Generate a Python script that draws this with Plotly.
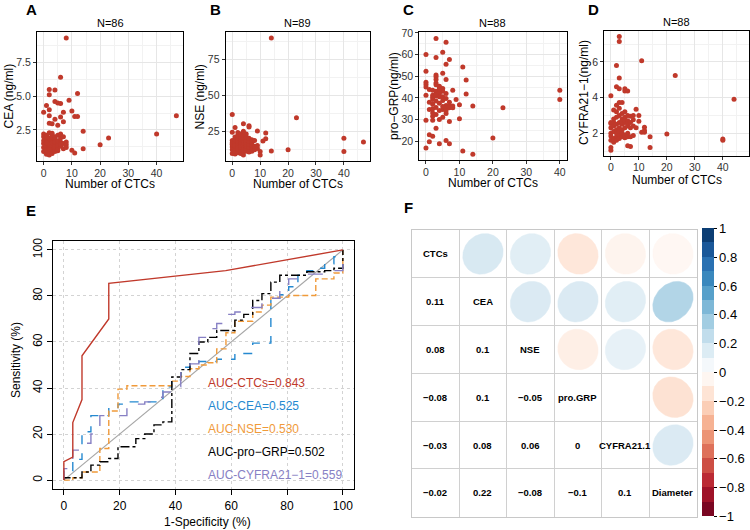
import numpy as np
import plotly.graph_objects as go

FONT = "Liberation Sans, Arial, Helvetica, sans-serif"
W, H = 750, 530

# ---------------- data ----------------
cea_ctcs = [8, 6, 2, 4, 2, 12, 9, 4, 5, 6, 1, 2, 0, 10, 7, 2, 6, 11, 12, 47, 4, 7, 2, 3, 5, 14, 40, 23, 20, 14, 10, 11,
            0, 0, 0, 0, 0, 0, 1, 1, 1, 1, 1, 1, 2, 2, 2, 2, 2, 2, 2, 3, 3, 3, 3, 3, 3, 3,
            4, 4, 4, 4, 4, 4, 4, 5, 5, 5, 5, 5, 5, 5, 6, 6, 6, 6, 6, 7, 7, 7, 8, 8, 8, 3, 1, 2]
cea_vals = [9.3, 6.4, 5.5, 5.45, 5.1, 5.2, 4.7, 4.6, 4.5, 4.45, 4.3, 4.0, 3.8, 3.9, 3.8, 3.55, 3.45, 3.5, 3.5, 3.55,
            3.3, 3.1, 3.0, 2.95, 2.85, 2.4, 2.2, 1.9, 1.4, 1.1, 1.0, 0.8,
            2.2, 2.0, 1.5, 1.2, 0.9, 1.7, 2.1, 1.8, 1.3, 0.7, 1.0, 2.0, 1.9, 1.6, 1.2, 0.8, 1.45, 2.3, 0.65,
            2.1, 1.7, 1.3, 1.0, 0.75, 1.55, 1.95, 2.0, 1.8, 1.4, 1.1, 0.9, 1.6, 1.25,
            2.1, 1.5, 1.2, 0.95, 1.7, 1.35, 1.05, 1.9, 1.6, 1.3, 2.2, 1.45, 2.0, 1.1, 1.5, 1.6, 1.4, 1.2, 2.25, 1.55, 1.05]

nse_ctcs = [14, 0, 23, 4, 6, 1, 9, 12, 12, 11, 40, 47, 40, 20, 14, 0, 10, 10, 4,
            0, 0, 0, 0, 0, 0, 0, 1, 1, 1, 1, 1, 1, 1, 1, 1, 2, 2, 2, 2, 2, 2, 2, 2, 2, 2,
            3, 3, 3, 3, 3, 3, 3, 3, 3, 3, 4, 4, 4, 4, 4, 4, 4, 4, 4, 5, 5, 5, 5, 5, 5, 5, 5,
            6, 6, 6, 6, 6, 6, 6, 7, 7, 7, 7, 7, 8, 8, 8, 9, 9]
nse_vals = [90.1, 36.6, 34.4, 30.2, 28.8, 27.6, 25.2, 23.8, 19.8, 18.2, 20.0, 17.5, 10.8, 12.0, 11.1, 24.3, 10.8, 8.3, 8.3,
            9.5, 12, 14, 15.5, 17, 18.5, 16, 9, 11, 13, 14.5, 16, 17.5, 19, 21, 15,
            10, 12.5, 14, 15.5, 17, 18, 20, 22, 24, 13, 9.5, 11.5, 13, 15, 16.5, 18, 19.5, 21, 23, 14,
            10.5, 12, 13.5, 15, 17, 18.5, 20, 22, 25, 11, 13, 14.5, 16, 17.5, 19, 21, 23,
            10.5, 12.5, 14, 16, 18, 20, 28, 11, 13, 15, 17, 19, 12, 14.5, 18.5, 13, 15]

grp_ctcs = [0, 0, 0, 0, 0, 0, 0, 0, 3, 6, 5, 3, 7, 6, 5, 11, 12, 6, 3, 3, 3, 3, 3, 4, 4, 1, 2, 5, 5, 8, 12,
            2, 2, 2, 4, 4, 6, 9, 5, 3, 3, 10, 1, 2, 4, 5, 6, 7, 8, 6, 7, 8, 14, 23, 2, 3, 5, 6, 2, 4, 7, 10,
            3, 1, 2, 1, 6, 7, 4, 20, 11, 14, 40, 40,
            2, 3, 4, 5, 4, 1, 3, 5, 6, 2, 4, 7, 3, 6]
grp_vals = [60, 52.3, 47.2, 46.2, 45, 41.2, 29.7, 16.8, 67.4, 65.7, 61, 58.6, 57.7, 55.5, 51.4, 54.2, 48.2, 48.5,
            50.6, 49.7, 48.5, 46.9, 46, 45.3, 44.9, 43.8, 43.5, 44.3, 43, 43.5, 41.8,
            41.2, 40.3, 39.2, 41.8, 40.5, 39.7, 39.2, 38.8, 40.8, 38.5, 36.8, 34.6, 35, 34.2, 34.6,
            36.5, 36.2, 36.2, 35.4, 35.4, 35.4, 36.2, 35.4, 31.5, 32.3, 31, 32.8, 29.7, 30, 29.1, 30.3,
            26, 23, 22.3, 19.7, 20.3, 18.8, 18.8, 21.5, 15.4, 14, 43.5, 39.2,
            37, 43, 42.5, 40.5, 37.5, 38, 35.5, 36, 34, 33, 44, 38, 41.5, 42]

cyf_ctcs = [3, 3, 11, 2, 3, 23, 2, 3, 5, 5, 6, 0, 44, 3, 4, 2, 9, 10, 8, 0, 1, 10, 12, 12, 11, 12, 20, 14,
            40, 40, 14, 0, 0, 6, 7, 8,
            0, 0, 0, 0, 0, 1, 1, 1, 1, 1, 1, 2, 2, 2, 2, 2, 2, 2, 3, 3, 3, 3, 3, 3, 3,
            4, 4, 4, 4, 4, 4, 4, 5, 5, 5, 5, 5, 5, 5, 6, 6, 6, 6, 6, 6, 7, 7, 7, 7, 8, 8, 9]
cyf_vals = [7.43, 7.15, 6.07, 5.8, 5.1, 5.24, 4.6, 4.5, 4.5, 4.37, 4.37, 4.1, 3.9, 3.72, 3.72, 3.57, 3.35, 3.0, 3.0,
            2.55, 2.6, 2.67, 2.33, 2.15, 2.05, 2.05, 1.96, 1.8, 1.68, 1.6, 1.2, 1.2, 1.05, 1.3, 1.26, 1.87,
            1.6, 2.0, 2.3, 2.6, 1.85, 1.7, 2.1, 2.4, 2.8, 1.5, 3.3, 1.8, 2.2, 2.5, 2.9, 3.2, 1.6, 2.0,
            1.9, 2.3, 2.6, 3.0, 3.4, 1.7, 2.1, 1.8, 2.2, 2.5, 2.8, 3.1, 2.0, 2.65,
            1.9, 2.3, 2.6, 2.9, 3.2, 2.7, 1.75, 2.0, 2.4, 2.7, 3.0, 1.8, 2.55, 1.8, 2.3, 2.6, 2.95, 2.4, 2.75, 2.3]

# ROC curves (1-specificity %, sensitivity %)
ctcs_fpr = [0, 0, 3.2, 3.2, 6.5, 6.5, 16.1, 16.1, 58, 100]
ctcs_tpr = [0, 8, 10, 25, 35, 54, 70, 85.5, 91, 100]
cea_fpr = [0, 0, 3.2, 6.5, 9.7, 16.1, 19.4, 22.6, 35.5, 38.7, 41.9, 45.2, 48.4, 54.8, 61.3, 67.7, 74.2, 77.4, 80.6,
           83.9, 87.1, 90.3, 93.5, 96.8, 100]
cea_tpr = [0, 4, 9, 21, 28, 31, 33, 34, 40.5, 43.5, 49, 50.5, 51.5, 52.5, 55, 59.5, 79, 80.5, 84,
           89, 91, 92, 94, 97, 100]
nse_fpr = [0, 3.2, 6.5, 12.9, 16.1, 19.4, 22.6, 38.7, 41.9, 45.2, 48.4, 51.6, 54.8, 58.1, 61.3, 67.7, 71, 74.2,
           80.6, 90.3, 90.3, 96.8, 100, 100]
nse_tpr = [0, 1, 3.5, 13.7, 30, 39.5, 41, 43, 45, 48.4, 50, 51, 57, 64, 69, 73, 76, 79.5,
           80.2, 82.4, 87.4, 90, 94.7, 100]
grp_fpr = [0, 0, 6.5, 9.7, 12.9, 16.1, 19.4, 25.8, 29, 32.3, 35.5, 38.7, 41.9, 45.2, 48.4, 51.6, 54.8, 61.3, 64.5,
           67.7, 71, 74.2, 77.4, 87.1, 93.5, 96.8, 100]
grp_tpr = [0, 1, 3.5, 6.5, 8, 9.4, 14.5, 18, 20, 24, 25.3, 44.8, 48, 55, 60, 62, 65, 69.5, 72,
           78, 81, 86, 89, 90.5, 91, 92, 100]
cyf_fpr = [0, 0, 3.2, 6.5, 9.7, 12.9, 22.6, 29, 32.3, 35.5, 38.7, 41.9, 45.2, 48.4, 51.6, 54.8, 58.1, 61.3, 64.5,
           71, 74.2, 77.4, 80.6, 87.1, 93.5, 100, 100]
cyf_tpr = [0, 5, 13, 16, 20, 28, 33, 34, 36, 38.3, 40.5, 49, 50.5, 62, 65.8, 68, 72, 73, 75,
           78, 79, 84, 87.4, 89.5, 91, 92.5, 100]
auc_labels = ["AUC-CTCs=0.843", "AUC-CEA=0.525", "AUC-NSE=0.530", "AUC-pro\u2212GRP=0.502", "AUC-CYFRA21\u22121=0.559"]
auc_label_y = [42, 32.2, 22.4, 12.3, 2.2]

# correlation matrix
corr_vars = ["CTCs", "CEA", "NSE", "pro.GRP", "CYFRA21.1", "Diameter"]
corr_matrix = [
    [1, 0.11, 0.08, -0.08, -0.03, -0.02],
    [0.11, 1, 0.1, 0.1, 0.08, 0.22],
    [0.08, 0.1, 1, -0.05, 0.06, -0.08],
    [-0.08, 0.1, -0.05, 1, 0, -0.1],
    [-0.03, 0.08, 0.06, 0, 1, 0.1],
    [-0.02, 0.22, -0.08, -0.1, 0.1, 1],
]

# ---------------- helpers ----------------
def px_x(p):
    return p / W


def px_y(p):
    return 1 - p / H


RED = "#C0392B"
BLUE = "#2589D0"
ORANGE = "#F09A3A"
PURPLE = "#8780C4"

PAL = ["#67001F", "#B2182B", "#D6604D", "#F4A582", "#FDDBC7", "#FFFFFF",
       "#D1E5F0", "#92C5DE", "#4393C3", "#2166AC", "#053061"]


def hex2rgb(h):
    return tuple(int(h[i:i + 2], 16) for i in (1, 3, 5))


def pal(v):
    t = (v + 1) / 2 * 10
    i = min(int(np.floor(t)), 9)
    f = t - i
    a, b = hex2rgb(PAL[i]), hex2rgb(PAL[i + 1])
    c = [round(a[k] + (b[k] - a[k]) * f) for k in range(3)]
    return "rgb(%d,%d,%d)" % tuple(c)


def paper_text(text, x, y, size=12, angle=0, color="black", xanchor="center"):
    return dict(text=text, x=px_x(x), y=px_y(y), xref="paper", yref="paper", xanchor=xanchor,
                yanchor="middle", showarrow=False, textangle=angle, borderpad=0,
                font=dict(size=size, color=color, family=FONT))


fig = go.Figure()
layout = dict(
    template="none",
    width=W, height=H, margin=dict(l=0, r=0, t=0, b=0, pad=0, autoexpand=False),
    paper_bgcolor="white", plot_bgcolor="white", showlegend=False,
    font=dict(family=FONT, size=12, color="black"),
)
annotations = []

# ---------------- scatter panels A-D ----------------
panels = [
    dict(x=cea_ctcs, y=cea_vals, ytitle="CEA (ng/ml)", title="N=86", box=(37, 183, 32, 161),
         xr=[-2.35, 49.35], xt=[0, 10, 20, 30, 40], xm=[5, 15, 25, 35, 45],
         yr=[0.2, 9.75], yt=[2.5, 5.0, 7.5], ym=[1.25, 3.75, 6.25, 8.75], fmt=".1f",
         ytx=8, letter="A", lx=31, xty=183.5),
    dict(x=nse_ctcs, y=nse_vals, ytitle="NSE (ng/ml)", title="N=89", box=(225.7, 370, 32, 161),
         xr=[-2.35, 49.35], xt=[0, 10, 20, 30, 40], xm=[5, 15, 25, 35, 45],
         yr=[4.2, 94.2], yt=[25, 50, 75], ym=[12.5, 37.5, 62.5, 87.5], fmt="",
         ytx=199, letter="B", lx=216, xty=183.5),
    dict(x=grp_ctcs, y=grp_vals, ytitle="pro\u2212GRP(ng/ml)", title="N=88", box=(419.3, 566.5, 32, 160),
         xr=[-2, 42], xt=[0, 10, 20, 30, 40], xm=[5, 15, 25, 35],
         yr=[11.3, 70.4], yt=[20, 30, 40, 50, 60, 70], ym=[15, 25, 35, 45, 55, 65], fmt="",
         ytx=394, letter="C", lx=408, xty=183),
    dict(x=cyf_ctcs, y=cyf_vals, ytitle="CYFRA21\u22121(ng/ml)", title="N=88", box=(604.3, 749, 30.7, 155.5),
         xr=[-2.35, 49.35], xt=[0, 10, 20, 30, 40], xm=[5, 15, 25, 35, 45],
         yr=[0.75, 7.75], yt=[2, 4, 6], ym=[1, 3, 5, 7], fmt="",
         ytx=584, letter="D", lx=593, xty=180),
]

for k, p in enumerate(panels, start=1):
    xa = "x" if k == 1 else "x%d" % k
    ya = "y" if k == 1 else "y%d" % k
    xl, xr_, yt_, yb = p["box"]
    fig.add_trace(go.Scatter(x=p["x"], y=p["y"], mode="markers", xaxis=xa, yaxis=ya,
                             marker=dict(size=5, color=RED), hoverinfo="skip"))
    common = dict(showline=True, mirror=True, linecolor="black", linewidth=1.2, automargin=False,
                  ticks="outside", ticklen=3, tickcolor="#333333", tickwidth=1,
                  showgrid=True, gridcolor="#E6E6E6", gridwidth=1, zeroline=False,
                  tickfont=dict(size=10.5, color="#333333", family=FONT))
    layout["xaxis" if k == 1 else "xaxis%d" % k] = dict(
        domain=[px_x(xl), px_x(xr_)], anchor=ya, range=p["xr"], tickvals=p["xt"], ticklabelstandoff=-1,
        minor=dict(tickvals=p["xm"], showgrid=True, gridcolor="#F2F2F2", gridwidth=0.7, ticks=""),
        **common)
    layout["yaxis" if k == 1 else "yaxis%d" % k] = dict(
        domain=[px_y(yb), px_y(yt_)], anchor=xa, range=p["yr"], tickvals=p["yt"], tickformat=p["fmt"],
        minor=dict(tickvals=p["ym"], showgrid=True, gridcolor="#F2F2F2", gridwidth=0.7, ticks=""),
        **common)
    cx = (xl + xr_) / 2
    annotations += [
        paper_text(p["title"], cx, yt_ - 9, size=11),
        paper_text(p["ytitle"], p["ytx"], (yt_ + yb) / 2, size=12, angle=-90),
        paper_text("Number of CTCs", cx, p["xty"], size=12),
        paper_text("<b>%s</b>" % p["letter"], p["lx"], 10, size=15),
    ]

# ---------------- panel E : ROC ----------------
fig.add_trace(go.Scatter(x=[0, 100], y=[0, 100], mode="lines", xaxis="x5", yaxis="y5",
                         line=dict(color="#A6A6A6", width=1.2), hoverinfo="skip"))
roc = [
    (cea_fpr, cea_tpr, BLUE, "dash", "hv"),
    (nse_fpr, nse_tpr, ORANGE, "6px,3px", "hv"),
    (grp_fpr, grp_tpr, "black", "dashdot", "hv"),
    (cyf_fpr, cyf_tpr, PURPLE, "longdash", "hv"),
    (ctcs_fpr, ctcs_tpr, RED, "solid", "linear"),
]
for fx, ty, col, dash, shape in roc:
    fig.add_trace(go.Scatter(x=fx, y=ty, mode="lines", xaxis="x5", yaxis="y5", line_shape=shape,
                             line=dict(color=col, width=1.4, dash=dash), hoverinfo="skip"))

eax = dict(showline=True, mirror=True, linecolor="black", linewidth=1, automargin=False,
           ticks="outside", ticklen=5, tickcolor="black", range=[-4, 104],
           tickvals=[0, 20, 40, 60, 80, 100], showgrid=True, gridcolor="#D3D3D3",
           griddash="dot", gridwidth=1, zeroline=False, tickfont=dict(size=12, color="black"))
layout["xaxis5"] = dict(domain=[px_x(52.7), px_x(354)], anchor="y5", **eax)
layout["yaxis5"] = dict(domain=[px_y(489.3), px_y(240.7)], anchor="x5", tickangle=-90, **eax)
for lab, yv, col in zip(auc_labels, auc_label_y, [RED, BLUE, ORANGE, "black", PURPLE]):
    annotations.append(dict(text=lab, x=51, y=yv, xref="x5", yref="y5", xanchor="left", yanchor="middle",
                            showarrow=False, font=dict(size=12, color=col)))
annotations += [
    paper_text("1-Specificity (%)", 207, 522, size=12),
    paper_text("Sensitivity (%)", 16, 360, size=12, angle=-90),
    paper_text("<b>E</b>", 31, 210, size=15),
    paper_text("<b>F</b>", 408, 207, size=15),
]

# ---------------- panel F : correlation plot ----------------
n = len(corr_vars)
t = np.linspace(0, 2 * np.pi, 100)
for i in range(n):
    for j in range(n):
        r = corr_matrix[i][j]
        if j > i:
            a = np.arccos(r)
            ex = 0.85 * np.cos(t + a / 2) / 2
            ey = 0.85 * np.cos(t - a / 2) / 2
            col = pal(np.sign(r) * abs(r) ** 0.8)
            fig.add_trace(go.Scatter(x=(j + 1) + ex, y=(i + 1) - ey, mode="lines", fill="toself",
                                     fillcolor=col, line=dict(color=col, width=0.5),
                                     xaxis="x6", yaxis="y6", hoverinfo="skip"))
        elif j == i:
            annotations.append(dict(text="<b>%s</b>" % corr_vars[i], x=j + 1, y=i + 1, xref="x6", yref="y6",
                                    xanchor="center", yanchor="middle",
                                    showarrow=False, font=dict(size=9.5, color="black")))
        else:
            s = ("%.2f" % r).rstrip("0").rstrip(".")
            if s in ("", "-"):
                s = "0"
            s = s.replace("-", "\u2212")
            annotations.append(dict(text="<b>%s</b>" % s, x=j + 1, y=i + 1, xref="x6", yref="y6",
                                    xanchor="center", yanchor="middle",
                                    showarrow=False, font=dict(size=9.5, color="black")))

# colorbar
nb = 20
cs = []
for k in range(nb):
    c = pal(-1 + (k + 0.5) * 2 / nb)
    cs.append([k / nb, c])
    cs.append([(k + 1) / nb, c])
fig.add_trace(go.Scatter(
    x=[1], y=[1], mode="markers", xaxis="x6", yaxis="y6", hoverinfo="skip",
    marker=dict(size=1, opacity=0, color=[0], colorscale=cs, cmin=-1, cmax=1, showscale=True,
                colorbar=dict(x=px_x(701.7), xanchor="left", xref="paper", y=px_y(372.5), yanchor="middle",
                              yref="paper", len=(516.7 - 228.3) / H, lenmode="fraction", thickness=12,
                              outlinewidth=0, xpad=0, ypad=0,
                              tickvals=[-1, -0.8, -0.6, -0.4, -0.2, 0, 0.2, 0.4, 0.6, 0.8, 1],
                              ticks="outside", ticklen=3, tickcolor="black",
                              tickfont=dict(size=13, color="black")))))

fax = dict(showline=True, mirror=True, linecolor="#C8C8C8", linewidth=1, ticks="", automargin=False,
           showticklabels=False, showgrid=True, gridcolor="#D0D0D0", gridwidth=1, zeroline=False,
           tickvals=[k + 0.5 for k in range(n + 1)])
layout["xaxis6"] = dict(domain=[px_x(411.7), px_x(696.7)], anchor="y6", range=[0.5, n + 0.5], **fax)
layout["yaxis6"] = dict(domain=[px_y(516.7), px_y(230)], anchor="x6", range=[n + 0.5, 0.5], **fax)

layout["annotations"] = annotations
fig.update_layout(**layout)
fig.write_html("out.html", config={"displayModeBar": False},
               post_script="document.body.style.margin='0px';document.body.style.overflow='hidden';")
